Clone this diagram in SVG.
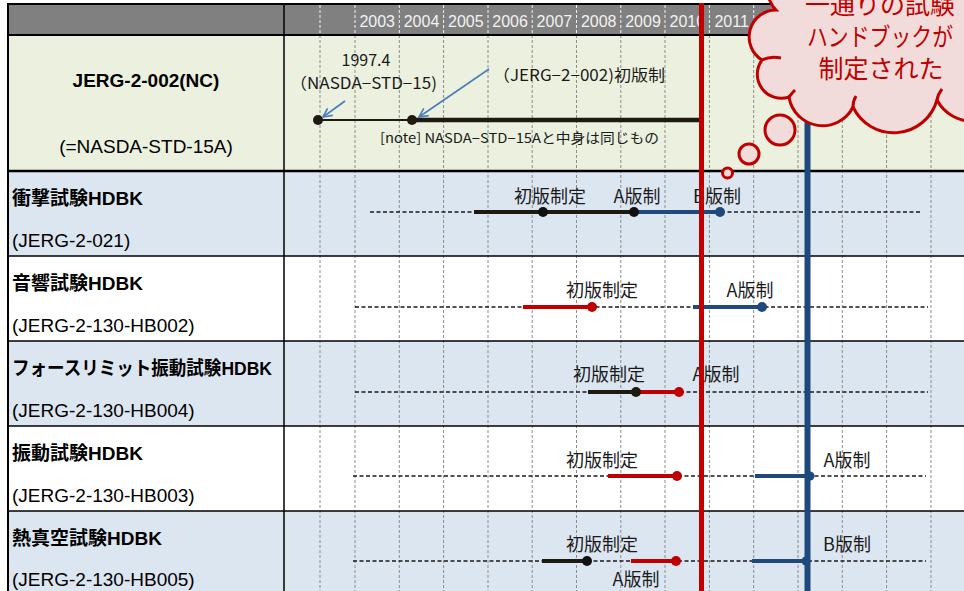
<svg xmlns="http://www.w3.org/2000/svg" width="964" height="591" viewBox="0 0 964 591">
  <style>
    .jp { font-family: "Noto Sans CJK JP", sans-serif; fill: #1a1a1a; }
    .ttl { font-family: "Liberation Sans", "Noto Sans CJK JP", sans-serif; font-weight: bold; font-size: 19px; fill: #000; }
    .sub { font-family: "Liberation Sans", "Noto Sans CJK JP", sans-serif; font-size: 19px; fill: #000; }
    .yr { font-family: "Liberation Sans", sans-serif; font-size: 16px; fill: #f2f2f2; text-anchor: middle; }
    .lab { font-family: "Noto Sans CJK JP", sans-serif; font-size: 18px; fill: #1a1a1a; text-anchor: middle; }
    .gridB { stroke: #8c8c8c; stroke-width: 1; stroke-dasharray: 3 2; }
    .gridH { stroke: #f2f2f2; stroke-width: 1; stroke-dasharray: 3 2; }
    .dash { stroke: #1a1a1a; stroke-width: 1.7; stroke-dasharray: 4 2.5; fill: none; }
    .blk { stroke: #1d1b10; stroke-width: 4; }
    .red { stroke: #c00000; stroke-width: 4; }
    .blu { stroke: #1f497d; stroke-width: 4; }
    .rule { stroke: #000; stroke-width: 1.5; }
    .arr { stroke: #4a7ebb; stroke-width: 1.6; fill: none; marker-end: url(#head); }
    .cloud { fill: #f2dcdb; stroke: #c00000; stroke-width: 3; }
    .ctxt { font-family: "Noto Sans CJK JP", sans-serif; font-size: 25px; fill: #c00000; text-anchor: middle; }
  </style>
  <defs>
    <marker id="head" viewBox="0 0 10 10" refX="9" refY="5" markerWidth="11" markerHeight="11" orient="auto" markerUnits="userSpaceOnUse">
      <path d="M1,1 L9,5 L1,9" fill="none" stroke="#4a7ebb" stroke-width="1.5"/>
    </marker>
    <clipPath id="cell2010"><rect x="665" y="4" width="35" height="31"/></clipPath>
  </defs>

  <rect width="964" height="591" fill="#fff"/>

  <!-- table cells -->
  <g id="table">
    <rect x="8" y="4" width="956" height="31" fill="#808080"/>
    <rect x="8" y="35" width="956" height="136" fill="#ebf1de"/>
    <rect x="8" y="171" width="956" height="85" fill="#dce6f1"/>
    <rect x="8" y="256" width="956" height="85" fill="#ffffff"/>
    <rect x="8" y="341" width="956" height="85" fill="#dce6f1"/>
    <rect x="8" y="426" width="956" height="85" fill="#ffffff"/>
    <rect x="8" y="511" width="956" height="80" fill="#dce6f1"/>
  </g>

  <!-- year grid -->
  <g id="grid">
    <g class="gridH">
      <line x1="320" y1="5" x2="320" y2="35"/><line x1="355" y1="5" x2="355" y2="35"/>
      <line x1="399.3" y1="5" x2="399.3" y2="35"/><line x1="443.6" y1="5" x2="443.6" y2="35"/>
      <line x1="488" y1="5" x2="488" y2="35"/><line x1="532.2" y1="5" x2="532.2" y2="35"/>
      <line x1="576.5" y1="5" x2="576.5" y2="35"/><line x1="620.8" y1="5" x2="620.8" y2="35"/>
      <line x1="665" y1="5" x2="665" y2="35"/><line x1="709.4" y1="5" x2="709.4" y2="35"/>
      <line x1="753.7" y1="5" x2="753.7" y2="35"/>
    </g>
    <g class="gridB">
      <line x1="320" y1="35" x2="320" y2="591"/><line x1="355" y1="35" x2="355" y2="591"/>
      <line x1="399.3" y1="35" x2="399.3" y2="591"/><line x1="443.6" y1="35" x2="443.6" y2="591"/>
      <line x1="488" y1="35" x2="488" y2="591"/><line x1="532.2" y1="35" x2="532.2" y2="591"/>
      <line x1="576.5" y1="35" x2="576.5" y2="591"/><line x1="620.8" y1="35" x2="620.8" y2="591"/>
      <line x1="665" y1="35" x2="665" y2="591"/><line x1="709.4" y1="35" x2="709.4" y2="591"/>
      <line x1="753.7" y1="35" x2="753.7" y2="591"/><line x1="798" y1="35" x2="798" y2="591"/>
      <line x1="842.3" y1="35" x2="842.3" y2="591"/><line x1="886.6" y1="35" x2="886.6" y2="591"/>
      <line x1="931" y1="35" x2="931" y2="591"/>
    </g>
    <text class="yr" x="377.2" y="27">2003</text>
    <text class="yr" x="421.5" y="27">2004</text>
    <text class="yr" x="465.8" y="27">2005</text>
    <text class="yr" x="510.1" y="27">2006</text>
    <text class="yr" x="554.4" y="27">2007</text>
    <text class="yr" x="598.7" y="27">2008</text>
    <text class="yr" x="643" y="27">2009</text>
    <text class="yr" x="687.3" y="27" clip-path="url(#cell2010)">2010</text>
    <text class="yr" x="731.6" y="27">2011</text>
  </g>

  <!-- borders -->
  <g id="borders">
    <line x1="8" y1="4" x2="964" y2="4" stroke="#000" stroke-width="2"/>
    <line x1="8" y1="35" x2="964" y2="35" stroke="#000" stroke-width="2"/>
    <line x1="8" y1="171" x2="964" y2="171" stroke="#000" stroke-width="2.5"/>
    <line class="rule" x1="8" y1="256" x2="964" y2="256"/>
    <line class="rule" x1="8" y1="341" x2="964" y2="341"/>
    <line class="rule" x1="8" y1="426" x2="964" y2="426"/>
    <line class="rule" x1="8" y1="511" x2="964" y2="511"/>
    <line x1="8" y1="3" x2="8" y2="591" stroke="#000" stroke-width="2"/>
    <line class="rule" x1="284" y1="4" x2="284" y2="591"/>
  </g>

  <!-- JERG-2-002 -->
  <g id="jerg-2-002">
    <text class="ttl" x="146" y="87" text-anchor="middle" font-size="21">JERG-2-002(NC)</text>
    <text class="sub" x="146" y="153" text-anchor="middle">(=NASDA-STD-15A)</text>
    <line x1="318" y1="120" x2="412" y2="120" stroke="#1d1b10" stroke-width="2"/>
    <line x1="412" y1="120" x2="702" y2="120" stroke="#1d1b10" stroke-width="4.5"/>
    <circle cx="318" cy="120" r="5" fill="#1d1b10"/>
    <circle cx="412" cy="120" r="5" fill="#1d1b10"/>
    <text class="jp" x="366" y="66" font-size="16" text-anchor="middle">1997.4</text>
    <text class="jp" x="290" y="89" font-size="16" textLength="147" lengthAdjust="spacingAndGlyphs">（NASDA−STD−15)</text>
    <text class="jp" x="493" y="81" font-size="16" textLength="172" lengthAdjust="spacingAndGlyphs">（JERG−2−002)初版制</text>
    <text class="jp" x="380" y="143" font-size="13.5" textLength="279" lengthAdjust="spacingAndGlyphs">[note] NASDA−STD−15Aと中身は同じもの</text>
  </g>

  <!-- shock test handbook -->
  <g id="shock">
    <text class="ttl" x="12" y="205">衝撃試験HDBK</text>
    <text class="sub" x="12" y="247">(JERG-2-021)</text>
    <line class="dash" x1="370" y1="212" x2="474" y2="212"/>
    <line class="dash" x1="721" y1="212" x2="921" y2="212"/>
    <line class="blk" x1="474" y1="212" x2="634" y2="212"/>
    <line class="blu" x1="634" y1="212" x2="720" y2="212"/>
    <circle cx="543" cy="212" r="5" fill="#111"/>
    <circle cx="634" cy="212" r="5" fill="#111"/>
    <circle cx="720" cy="212" r="5" fill="#1f497d"/>
    <text class="lab" x="550" y="203">初版制定</text>
    <text class="lab" x="637" y="203">A版制</text>
    <text class="lab" x="717" y="203">B版制</text>
  </g>

  <!-- acoustic test handbook -->
  <g id="acoustic">
    <text class="ttl" x="12" y="290">音響試験HDBK</text>
    <text class="sub" x="12" y="332">(JERG-2-130-HB002)</text>
    <line class="dash" x1="355" y1="307" x2="928" y2="307"/>
    <line class="red" x1="523" y1="307" x2="592" y2="307"/>
    <line class="blu" x1="693" y1="307" x2="762" y2="307"/>
    <circle cx="592" cy="307" r="5" fill="#c00000"/>
    <circle cx="762" cy="307" r="5" fill="#1f497d"/>
    <text class="lab" x="602" y="297">初版制定</text>
    <text class="lab" x="750" y="297">A版制</text>
  </g>

  <!-- force-limited vibration test handbook -->
  <g id="force-limit">
    <text class="ttl" x="12" y="375" textLength="260" lengthAdjust="spacingAndGlyphs">フォースリミット振動試験HDBK</text>
    <text class="sub" x="12" y="417">(JERG-2-130-HB004)</text>
    <line class="dash" x1="355" y1="392" x2="928" y2="392"/>
    <line class="blk" x1="588" y1="392" x2="636" y2="392"/>
    <line class="red" x1="636" y1="392" x2="679" y2="392"/>
    <circle cx="636" cy="392" r="5" fill="#1d1b10"/>
    <circle cx="679" cy="392" r="5" fill="#c00000"/>
    <text class="lab" x="609" y="381">初版制定</text>
    <text class="lab" x="716" y="381">A版制</text>
  </g>

  <!-- vibration test handbook -->
  <g id="vibration">
    <text class="ttl" x="12" y="460">振動試験HDBK</text>
    <text class="sub" x="12" y="502">(JERG-2-130-HB003)</text>
    <line class="dash" x1="353" y1="476" x2="926" y2="476"/>
    <line class="red" x1="608" y1="476" x2="677" y2="476"/>
    <line class="blu" x1="755" y1="476" x2="810" y2="476"/>
    <circle cx="677" cy="476" r="5" fill="#c00000"/>
    <circle cx="810" cy="476" r="4.5" fill="#1f497d"/>
    <text class="lab" x="602" y="467">初版制定</text>
    <text class="lab" x="847" y="467">A版制</text>
  </g>

  <!-- thermal vacuum test handbook -->
  <g id="thermal-vacuum">
    <text class="ttl" x="12" y="545">熱真空試験HDBK</text>
    <text class="sub" x="12" y="586">(JERG-2-130-HB005)</text>
    <line class="dash" x1="353" y1="561" x2="926" y2="561"/>
    <line class="blk" x1="542" y1="561" x2="587" y2="561"/>
    <line class="red" x1="631" y1="561" x2="676" y2="561"/>
    <line class="blu" x1="752" y1="561" x2="806" y2="561"/>
    <circle cx="587" cy="561" r="5" fill="#111"/>
    <circle cx="676" cy="561" r="5" fill="#c00000"/>
    <circle cx="806" cy="561" r="4.5" fill="#1f497d"/>
    <text class="lab" x="602" y="551">初版制定</text>
    <text class="lab" x="636" y="586">A版制</text>
    <text class="lab" x="847" y="551">B版制</text>
  </g>

  <!-- callout arrows -->
  <g id="connectors">
    <line class="arr" x1="345" y1="101" x2="323" y2="117"/>
    <line class="arr" x1="489" y1="69" x2="419" y2="117"/>
  </g>

  <!-- milestone markers -->
  <g id="milestones">
    <line x1="807.5" y1="100" x2="807.5" y2="591" stroke="#1f497d" stroke-width="6"/>
    <line x1="701.5" y1="3" x2="701.5" y2="591" stroke="#c00000" stroke-width="5"/>
  </g>

  <!-- thought bubble -->
  <g id="bubble">
    <circle class="cloud" cx="727.5" cy="173" r="5"/>
    <circle class="cloud" cx="749" cy="154" r="10"/>
    <circle class="cloud" cx="780" cy="130" r="15"/>
    <path class="cloud" d="M 790 -40 A 30 30 0 0 0 776 10 A 27 27 0 0 0 762 60 A 24 24 0 0 0 789 97 A 34 34 0 0 0 853 107 A 45 45 0 0 0 937 100 A 40 40 0 0 0 1010 95 L 1010 -40 Z"/>
    <path d="M 762 60 Q 770 56 781 58 M 789 97 Q 792 93 795 90 M 853 107 Q 853 101 856 96 M 937 100 Q 938 94 942 89" fill="none" stroke="#c00000" stroke-width="3"/>
    <text class="ctxt" x="880" y="14">一通りの試験</text>
    <text class="ctxt" x="880" y="46" textLength="146" lengthAdjust="spacingAndGlyphs">ハンドブックが</text>
    <text class="ctxt" x="881" y="78">制定された</text>
  </g>
</svg>
